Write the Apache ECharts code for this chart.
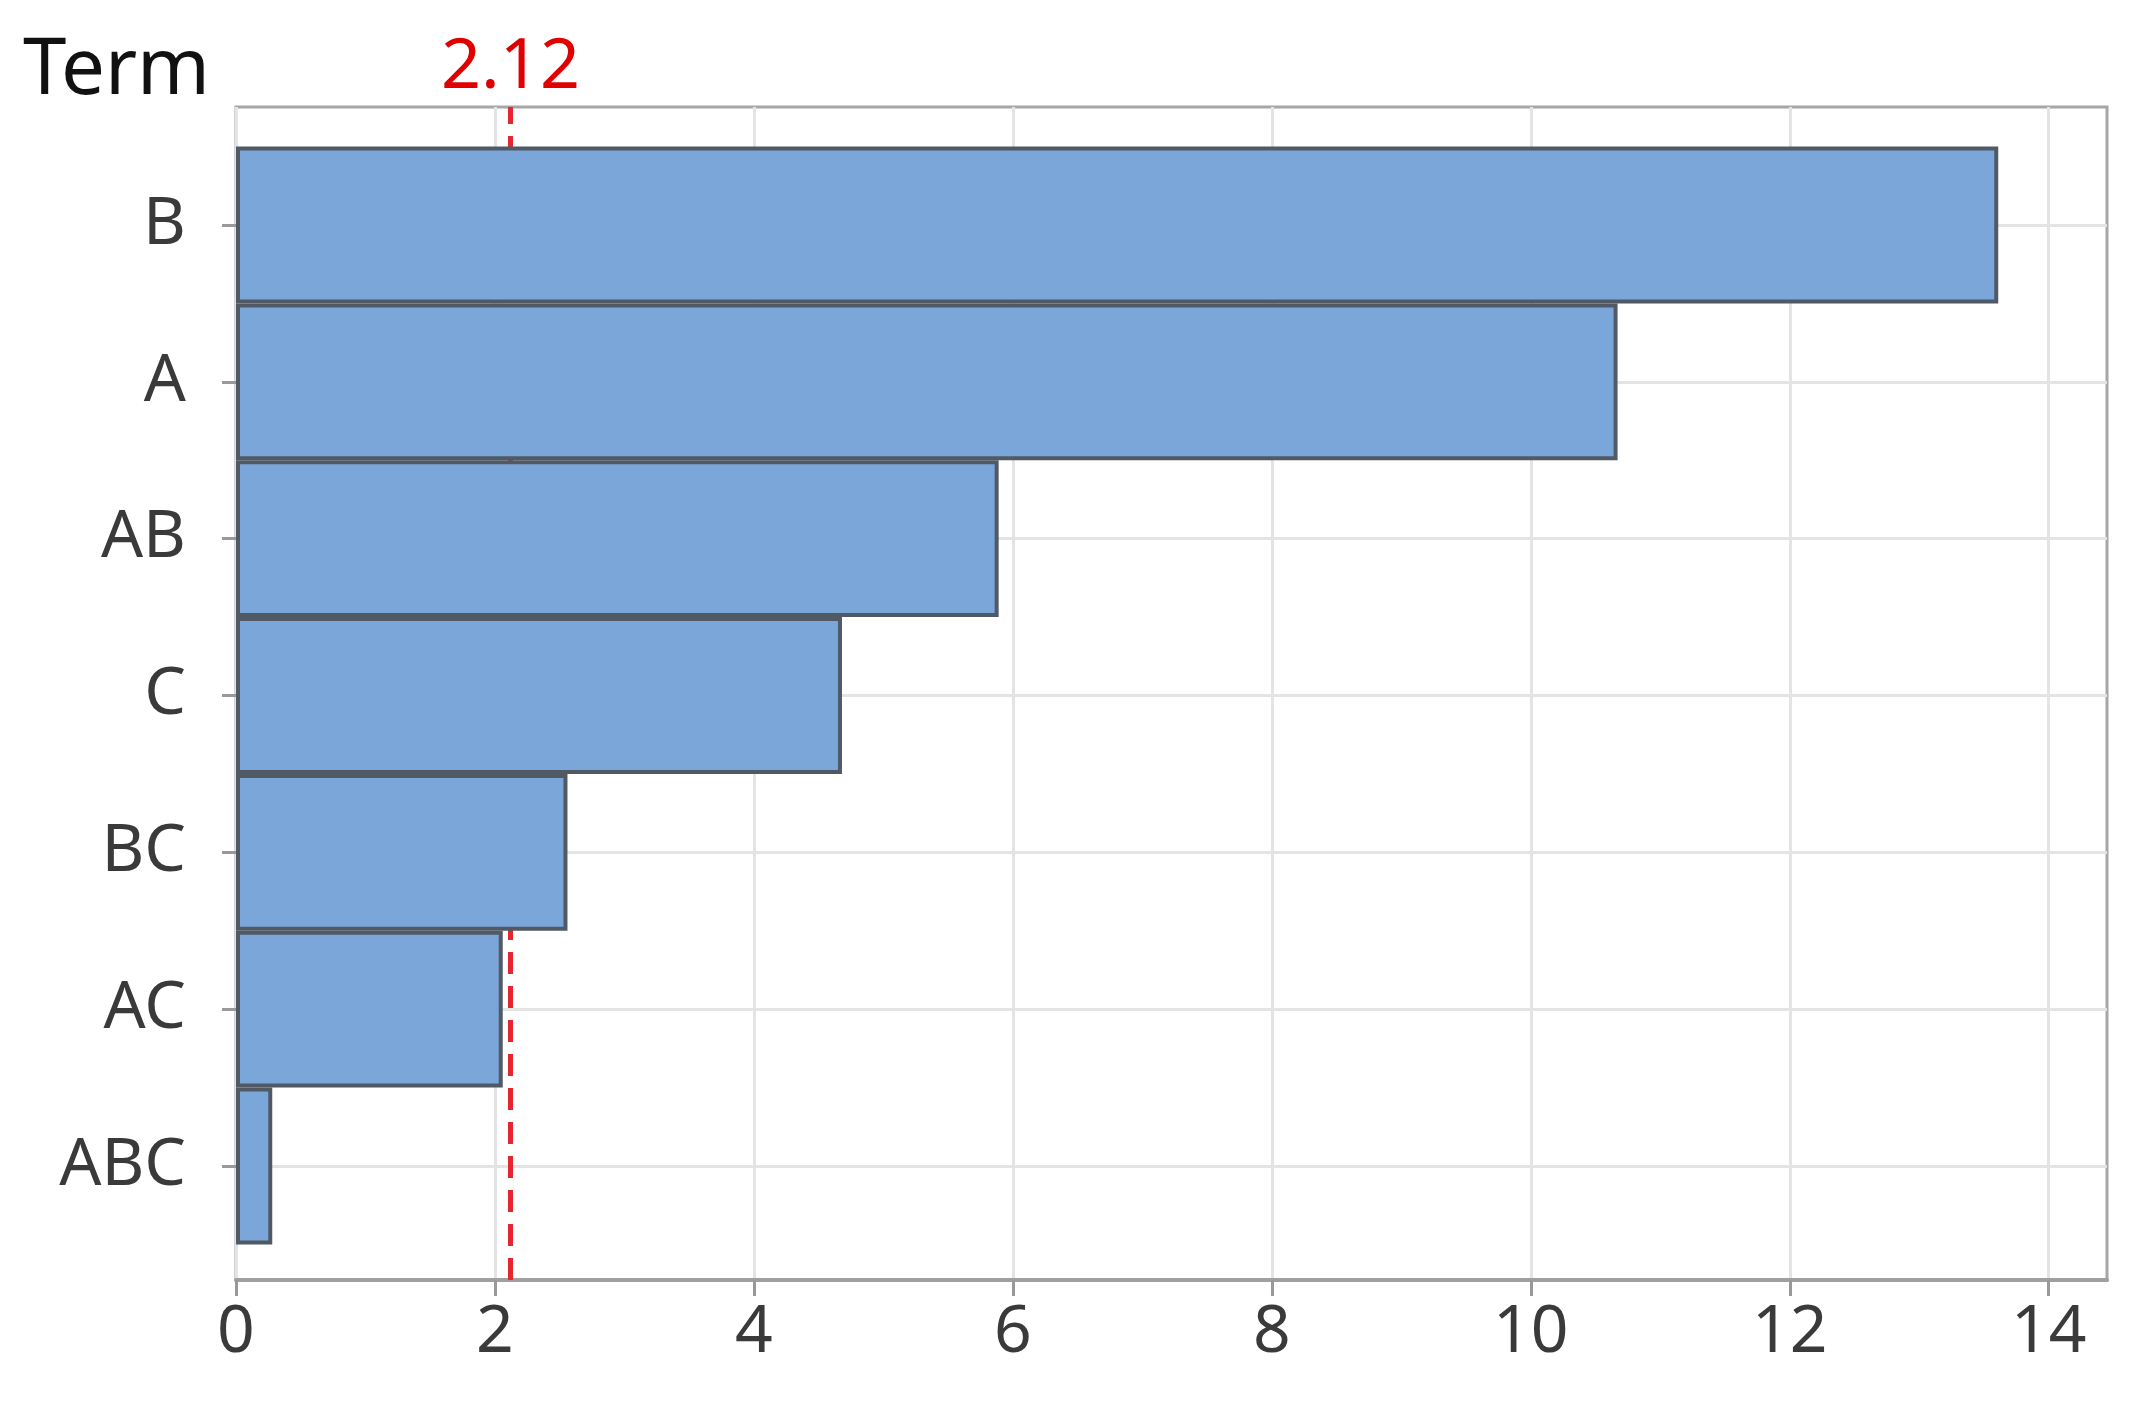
<!DOCTYPE html>
<html>
<head>
<meta charset="utf-8">
<script src="https://cdn.jsdelivr.net/npm/echarts@6/dist/echarts.min.js"></script>
<style>
  html, body { margin: 0; padding: 0; background: #fff; }
  #main { width: 2141px; height: 1404px; }
</style>
</head>
<body>
<div id="main"></div>
<script>
// data
const terms = ['B', 'A', 'AB', 'C', 'BC', 'AC', 'ABC'];
const effects = [13.61, 10.67, 5.89, 4.68, 2.56, 2.06, 0.28];
const xTicks = [0, 2, 4, 6, 8, 10, 12, 14];
const refValue = 2.12;
const xMax = 14.45;

const font = 'Noto Sans';
const gridColor = '#e4e4e4';

const chart = echarts.init(document.getElementById('main'));

const option = {
  animation: false,
  backgroundColor: '#fff',
  title: {
    text: 'Term',
    left: 18,
    top: 28,
    textStyle: { fontFamily: font, fontSize: 78, fontWeight: 'normal', color: '#111' }
  },
  grid: [
    // frame grid (plot box)
    { left: 236, right: 34, top: 107, bottom: 124, show: true, borderColor: '#a6a6a6', borderWidth: 3, backgroundColor: '#fff' },
    // bar grid, category centres on B .. ABC
    { left: 236, right: 34, top: 225, bottom: 238 }
  ],
  xAxis: [
    {
      type: 'value', gridIndex: 0, min: 0, max: xMax, interval: 2,
      axisLine: { show: true, lineStyle: { color: '#a0a0a0', width: 4 } },
      axisTick: { show: true, length: 16, customValues: xTicks, lineStyle: { color: '#999', width: 3 } },
      axisLabel: { customValues: xTicks, fontFamily: font, fontSize: 66, color: '#3a3a3a', margin: 20 },
      splitLine: { show: true, lineStyle: { color: gridColor, width: 3 } }
    },
    { type: 'value', gridIndex: 1, min: 0, max: xMax, show: false, splitLine: { show: false } }
  ],
  yAxis: [
    { type: 'value', gridIndex: 0, min: 0, max: 1, show: false, splitLine: { show: false } },
    {
      type: 'category', gridIndex: 1, data: terms, inverse: true, boundaryGap: false,
      axisLine: { show: false },
      axisTick: { show: true, length: 14, lineStyle: { color: '#999', width: 3 } },
      axisLabel: { fontFamily: font, fontSize: 66, color: '#3a3a3a', margin: 50 },
      splitLine: { show: true, lineStyle: { color: gridColor, width: 3 } }
    }
  ],
  series: [
    {
      type: 'line', xAxisIndex: 0, yAxisIndex: 0, data: [], z: 1,
      markLine: {
        silent: true,
        z: 1,
        symbol: ['none', 'none'],
        lineStyle: { color: '#e3262f', type: [22, 12], width: 5 },
        label: {
          show: true, position: 'end', distance: 4,
          formatter: (p) => p.value.toFixed(2),
          fontFamily: font, fontSize: 70, color: '#e00000'
        },
        data: [{ xAxis: refValue }]
      }
    },
    {
      type: 'bar', xAxisIndex: 1, yAxisIndex: 1, data: effects, z: 3,
      barCategoryGap: '0%', clip: false,
      itemStyle: { color: '#7ba6d9', borderColor: '#515964', borderWidth: 4 }
    }
  ]
};

chart.setOption(option);
</script>
</body>
</html>
